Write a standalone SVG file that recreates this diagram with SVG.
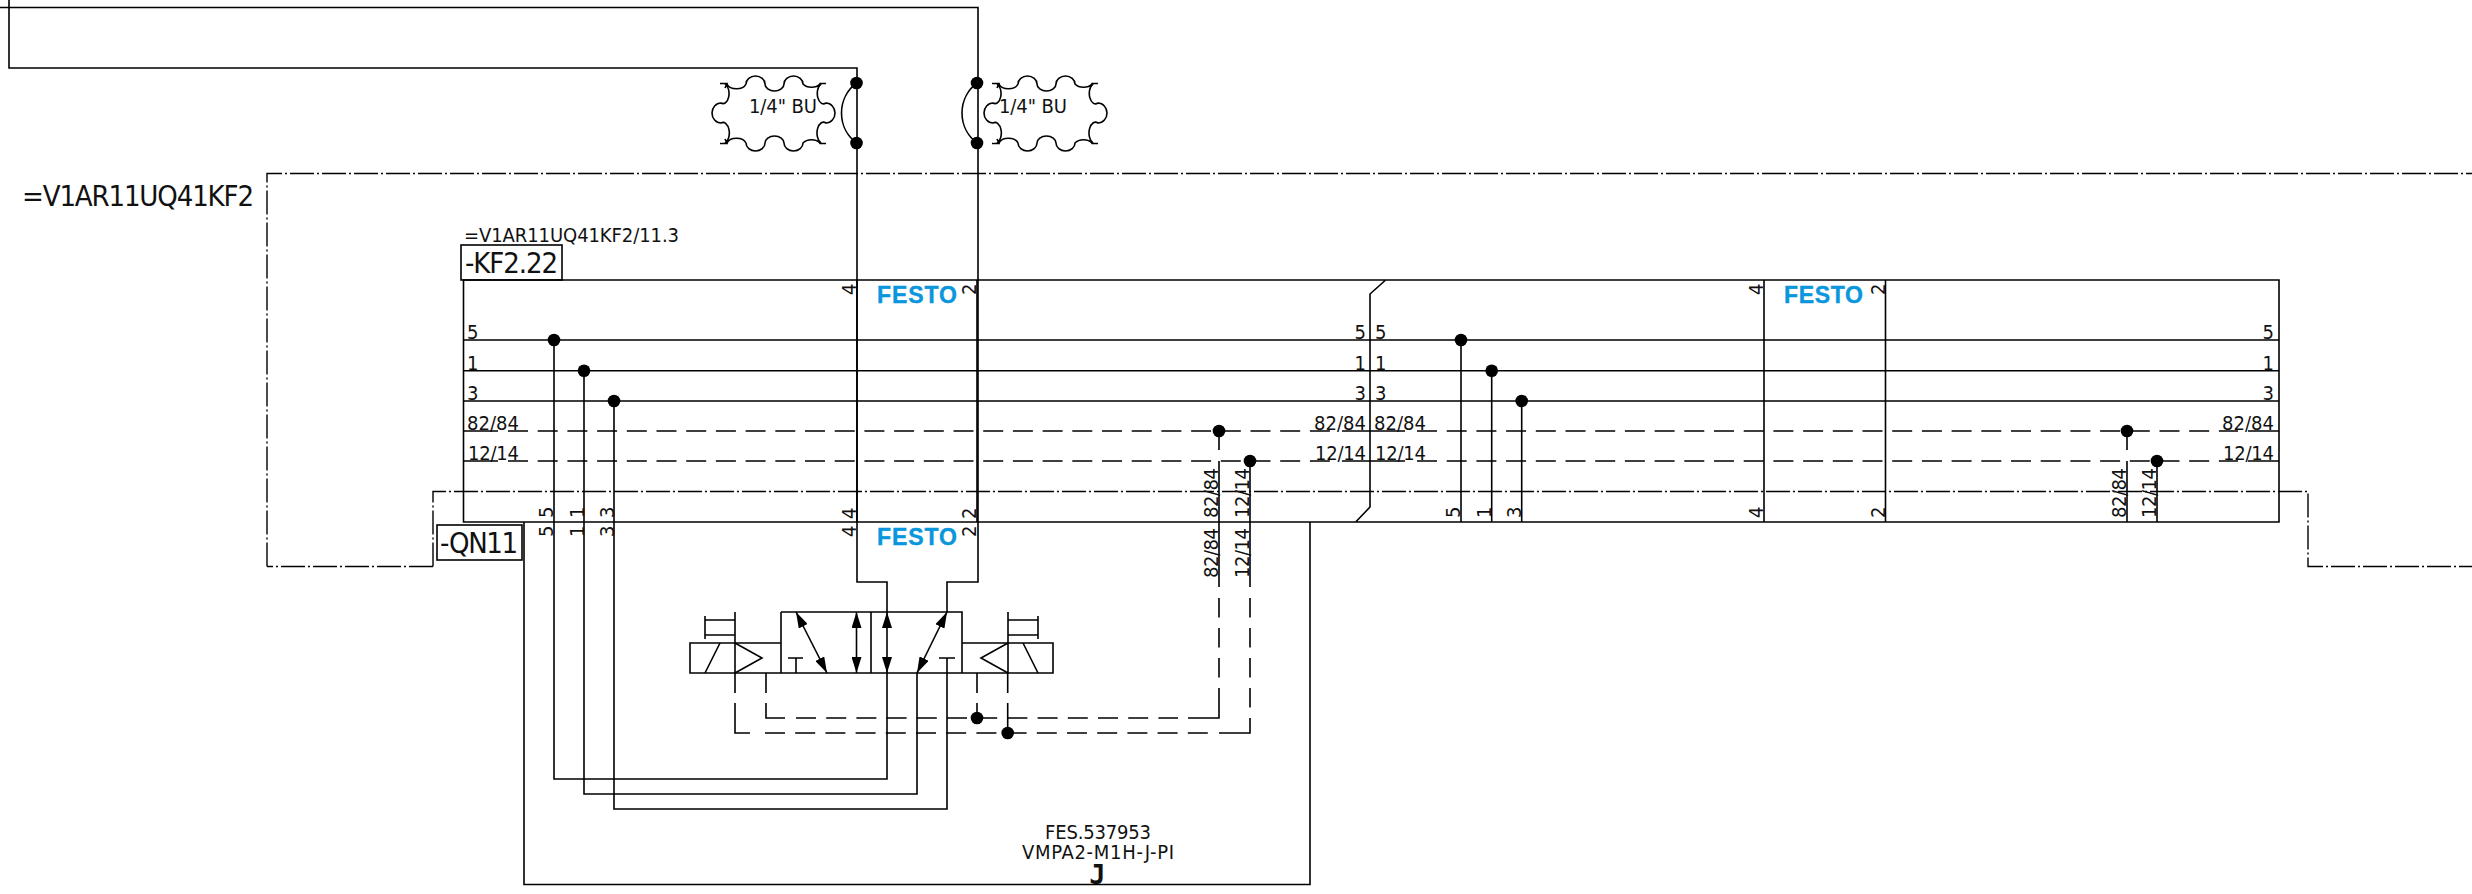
<svg xmlns="http://www.w3.org/2000/svg" width="2472" height="894" viewBox="0 0 2472 894">
<defs>
<style>
.l{fill:none;stroke:#000;stroke-width:1.6}
.d{stroke-dasharray:20 9.7}
.e{stroke-dasharray:20 10.2}
.v{stroke-dasharray:19.5 10.5}
.dd{fill:none;stroke:#000;stroke-width:1.4;stroke-dasharray:24 3 2 3}
.t{font-family:"DejaVu Sans Condensed","DejaVu Sans",sans-serif;font-stretch:condensed;fill:#111;font-size:20px}
.b{font-size:29px}
.f{font-family:"Liberation Sans",sans-serif;font-weight:700;font-size:23px;fill:#0a96dc;stroke:#0a96dc;stroke-width:.4}
.j{font-family:"DejaVu Sans Mono",monospace;font-weight:700;font-size:27px;fill:#111}
.k{fill:#000}
</style>
<marker id="a" viewBox="0 0 16 10" refX="16" refY="5" markerWidth="16" markerHeight="10" orient="auto-start-reverse" markerUnits="userSpaceOnUse"><path d="M0 0L16 5L0 10z"/></marker>
<circle id="o" r="6.3"/>
<path id="c" class="l" d="M720 83.5H727L725 88M727 84A10 7 0 0 0 746 84A9.5 8 0 0 1 765 84A9.5 7 0 0 0 784 84A9.5 8 0 0 1 803 84A10 7 0 0 0 820 84M826 83.5H820L818 88M821 84A6 10 0 0 0 826 103A9 10 0 0 1 826 123A6 10 0 0 0 821 143M826 143.5H820L818 139M820 143A10 7 0 0 0 803 143A9.5 8 0 0 1 784 143A9.5 7 0 0 0 765 143A9.5 8 0 0 1 746 143A10 7 0 0 0 727 143M720 143.5H727L725 139M725 143A6 10 0 0 0 721 123A9 10 0 0 1 721 103A6 10 0 0 0 725 84"/>
</defs>
<rect width="2472" height="894" fill="#fff"/>
<g id="connectors">
<path class="l" d="M0 7.5H978V582H947V612M9 0V68H857V582H887V612"/>
<path class="l" d="M856.5 83A37.5 37.5 0 0 0 856.5 143M977 83A37.5 37.5 0 0 0 977 143"/>
<path class="dd" d="M267 566.5V173.5H2472M433 566.5H267M433 566.5V491.5H2308V566.5H2472"/>
<path class="l" d="M463.5 340H2279M463.5 370.7H2279M463.5 401H2279"/>
<path class="l" d="M463.5 431H498M1342 431H1405M2248 431H2279M463.5 461H498M1342 461H1405M2248 461H2279"/>
<path class="l d" d="M508 431H1330M1417 431H2238M508 461H1330M1417 461H2238"/>
<path class="l" d="M554 340V779H887V673M584 370.7V794H917V673M614 401V809H947V673"/>
<path class="l" d="M1219 431V450M1219 461V587M1250 461V587M735 673V693M735 703V733H750M766 673V693M766 703V718H785M977 673V693M977 703V718M1007.7 673V693M1007.7 703V733M1219 688V718H1188M1250 718V733H1219"/>
<path class="l e" d="M796 718H1178M765 733H1209"/>
<path class="l v" d="M1219 598V678M1250 598V708"/>
<path class="l" d="M1461 340V522M1491.7 370.7V522M1521.7 401V522M2127 431V450M2127 461V522M2157 461V522"/>
</g>
<g id="dots" class="k">
<use href="#o" x="856.5" y="83"/><use href="#o" x="856.5" y="143"/><use href="#o" x="977" y="83"/><use href="#o" x="977" y="143"/>
<use href="#o" x="554" y="340"/><use href="#o" x="584" y="370.7"/><use href="#o" x="614" y="401"/>
<use href="#o" x="1461" y="340"/><use href="#o" x="1491.7" y="370.7"/><use href="#o" x="1521.7" y="401"/>
<use href="#o" x="1219" y="431"/><use href="#o" x="1250" y="461"/><use href="#o" x="2127" y="431"/><use href="#o" x="2157" y="461"/>
<use href="#o" x="977" y="718"/><use href="#o" x="1007.7" y="733"/>
</g>
<g id="cloud-1"><use href="#c"/><text class="t" x="749" y="113" textLength="68">1/4" BU</text></g>
<g id="cloud-2"><use href="#c" x="272"/><text class="t" x="999" y="113" textLength="68">1/4" BU</text></g>
<g id="frame"><text class="t b" x="22" y="206" textLength="232">=V1AR11UQ41KF2</text></g>
<g id="KF2.22">
<path class="l" d="M1385.7 280H463.5V522H1355.7L1370 507V294L1385.7 280H2279V522H1355.7"/>
<path class="l" d="M857 280V522M977 280V522M1764 280V522M1885.5 280V522"/>
<text class="t" x="464" y="241.5" textLength="215">=V1AR11UQ41KF2/11.3</text>
<rect class="l" x="461" y="245" width="101" height="35"/>
<text class="t b" x="465" y="273" textLength="93">-KF2.22</text>
<text class="f" x="877" y="303" textLength="80">FESTO</text><text class="f" x="1784" y="303" textLength="79">FESTO</text>
</g>
<g id="QN11">
<rect class="l" x="437" y="525" width="85" height="35"/>
<text class="t b" x="440" y="553" textLength="78">-QN11</text>
<path class="l" d="M524 522V884.5H1310V522"/>
<text class="f" x="877" y="545" textLength="80">FESTO</text>
<text class="t" x="1045" y="839" textLength="106">FES.537953</text>
<text class="t" x="1022" y="859" textLength="152">VMPA2-M1H-J-PI</text>
<text class="j" x="1097.5" y="884" text-anchor="middle">J</text>
</g>
<g id="valve">
<path class="l" d="M781 612H962V673H690V643H781M962 643H1053V673H962M871 612V673M781 612V673"/>
<path class="l" d="M735 643V673M735 643L762 658L735 673M720 643L705 673M705 616V639M735 612V643M705 620H735M705 635H735"/>
<path class="l" d="M1008 643V673M1008 643L981 658L1008 673M1023 643L1038 673M1038 616V639M1008 612V643M1008 620H1038M1008 635H1038"/>
<path class="l" d="M788 658H803M796 658V673M939 658H955M947 658V673"/>
<path class="l" marker-start="url(#a)" marker-end="url(#a)" d="M796 612L827 673"/>
<path class="l" marker-start="url(#a)" marker-end="url(#a)" d="M856.5 612V673"/>
<path class="l" marker-start="url(#a)" marker-end="url(#a)" d="M887 612V673"/>
<path class="l" marker-start="url(#a)" marker-end="url(#a)" d="M947 612L917 673"/>
</g>
<g id="labels" class="t">
<text x="467" y="339">5</text><text x="467" y="369.5">1</text><text x="467" y="400">3</text>
<text x="467" y="429.5" textLength="52">82/84</text><text x="468" y="460" textLength="51">12/14</text>
<text x="1366" y="339" text-anchor="end">5</text><text x="1366" y="369.5" text-anchor="end">1</text><text x="1366" y="400" text-anchor="end">3</text>
<text x="1314" y="429.5" textLength="52">82/84</text><text x="1315" y="460" textLength="51">12/14</text>
<text x="1375" y="339">5</text><text x="1375" y="369.5">1</text><text x="1375" y="400">3</text>
<text x="1374" y="429.5" textLength="52">82/84</text><text x="1375" y="460" textLength="51">12/14</text>
<text x="2274" y="339" text-anchor="end">5</text><text x="2274" y="369.5" text-anchor="end">1</text><text x="2274" y="400" text-anchor="end">3</text>
<text x="2222" y="429.5" textLength="52">82/84</text><text x="2223" y="460" textLength="51">12/14</text>
<text transform="translate(553 518) rotate(-90)">5</text><text transform="translate(583.5 518) rotate(-90)">1</text><text transform="translate(613.5 518) rotate(-90)">3</text>
<text transform="translate(553 537) rotate(-90)">5</text><text transform="translate(583.5 537) rotate(-90)">1</text><text transform="translate(613.5 537) rotate(-90)">3</text>
<text transform="translate(855.5 295) rotate(-90)">4</text><text transform="translate(975.5 295) rotate(-90)">2</text>
<text transform="translate(855.5 519) rotate(-90)">4</text><text transform="translate(975.5 519) rotate(-90)">2</text>
<text transform="translate(855.5 537) rotate(-90)">4</text><text transform="translate(975.5 537) rotate(-90)">2</text>
<text transform="translate(1218 518) rotate(-90)" textLength="50">82/84</text><text transform="translate(1249 518) rotate(-90)" textLength="50">12/14</text>
<text transform="translate(1218 578) rotate(-90)" textLength="50">82/84</text><text transform="translate(1249 578) rotate(-90)" textLength="50">12/14</text>
<text transform="translate(1460 518) rotate(-90)">5</text><text transform="translate(1491 518) rotate(-90)">1</text><text transform="translate(1521 518) rotate(-90)">3</text>
<text transform="translate(1763 295) rotate(-90)">4</text><text transform="translate(1884.5 295) rotate(-90)">2</text>
<text transform="translate(1763 518) rotate(-90)">4</text><text transform="translate(1884.5 518) rotate(-90)">2</text>
<text transform="translate(2126 518) rotate(-90)" textLength="50">82/84</text><text transform="translate(2156 518) rotate(-90)" textLength="50">12/14</text>
</g>
</svg>
